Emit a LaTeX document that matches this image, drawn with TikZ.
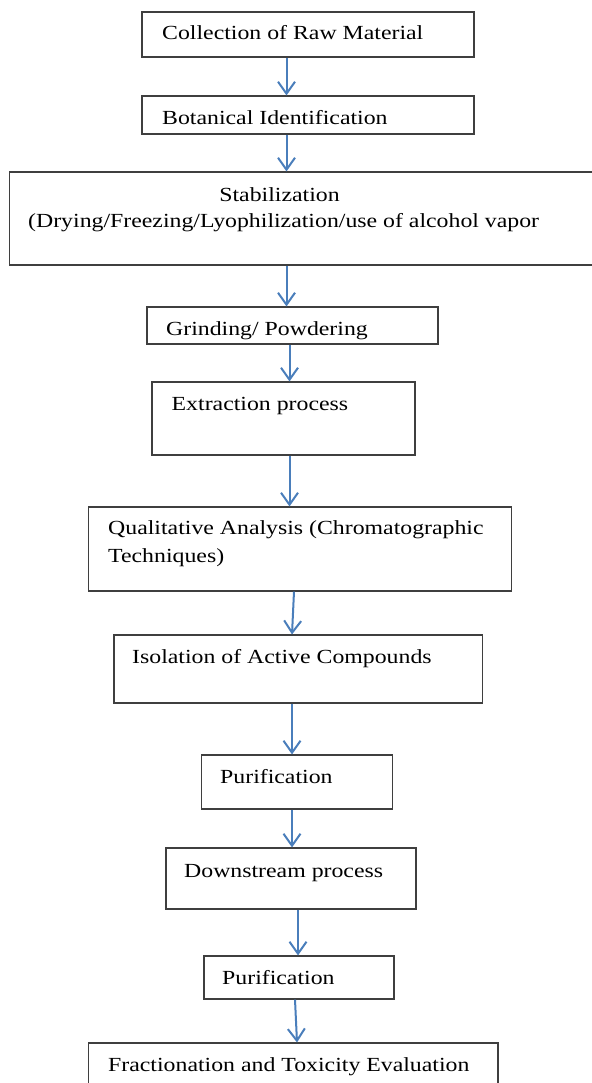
\documentclass[tikz,border=0pt]{standalone}
\usepackage{fontspec}
\setmainfont{Liberation Serif}
\usepackage{graphicx}
\usepackage{xcolor}
\usepackage{tikz}
\usetikzlibrary{positioning,arrows.meta}

\definecolor{flowblue}{HTML}{4A7EBB}
\definecolor{boxgray}{HTML}{3F3F3F}
\newcommand{\wtxt}[1]{\scalebox{1.19}[1]{#1}}

\begin{document}
\begin{tikzpicture}[x=1pt, y=-1pt,
    stage/.style={draw=boxgray, line width=1.1pt, rectangle, inner sep=0pt},
    txt/.style={font=\fontsize{20}{24}\selectfont, text=black, anchor=base west, inner sep=0pt},
    flow/.style={draw=flowblue, line width=2pt, -{Straight Barb[length=12pt,width=17pt]}}]
  \useasboundingbox (0,0) rectangle (591,1083);
  % Boxes
  \node[stage, minimum width=332pt, minimum height=45pt] (n1) at (308,34.5) {};
  \node[stage, minimum width=332pt, minimum height=38pt] (n2) at (308,115) {};
  \node[stage, minimum width=600pt, minimum height=93pt] (n3) at (309.5,218.5) {};
  \node[stage, minimum width=291pt, minimum height=37pt] (n4) at (292.5,325.5) {};
  \node[stage, minimum width=263pt, minimum height=73pt] (n5) at (283.5,418.5) {};
  \node[stage, minimum width=423pt, minimum height=84pt] (n6) at (300,549) {};
  \node[stage, minimum width=368.5pt, minimum height=68pt] (n7) at (298.25,669) {};
  \node[stage, minimum width=191pt, minimum height=54pt] (n8) at (297.25,782) {};
  \node[stage, minimum width=250pt, minimum height=61pt] (n9) at (291,878.5) {};
  \node[stage, minimum width=190pt, minimum height=43pt] (n10) at (299,977.5) {};
  \node[stage, minimum width=409.4pt, minimum height=52pt] (n11) at (293.3,1069) {};
  % Texts
  \node[txt] (t1) at (162,40) {\wtxt{Collection of Raw Material}};
  \node[txt] (t2) at (162,125) {\wtxt{Botanical Identification}};
  \node[txt, anchor=base] (t3a) at (279.5,202) {\wtxt{Stabilization}};
  \node[txt] (t3b) at (28,228) {\wtxt{(Drying/Freezing/Lyophilization/use of alcohol vapor}};
  \node[txt] (t4) at (166,335) {\wtxt{Grinding/ Powdering}};
  \node[txt] (t5) at (171.5,410) {\wtxt{Extraction process}};
  \node[txt] (t6a) at (108,534) {\wtxt{Qualitative Analysis (Chromatographic}};
  \node[txt] (t6b) at (108,562) {\wtxt{Techniques)}};
  \node[txt] (t7) at (132,663) {\wtxt{Isolation of Active Compounds}};
  \node[txt] (t8) at (220,783) {\wtxt{Purification}};
  \node[txt] (t9) at (184,877) {\wtxt{Downstream process}};
  \node[txt] (t10) at (222,984) {\wtxt{Purification}};
  \node[txt] (t11) at (108,1071) {\wtxt{Fractionation and Toxicity Evaluation}};
  % Arrows
  \draw[flow] ([xshift=-21.5pt]n1.south) -- ([xshift=-21.5pt]n2.north);
  \draw[flow] ([xshift=-21.5pt]n2.south) -- ([xshift=-23pt]n3.north);
  \draw[flow] ([xshift=-23pt]n3.south) -- ([xshift=-6pt]n4.north);
  \draw[flow] ([xshift=-3pt]n4.south) -- ([xshift=6pt]n5.north);
  \draw[flow] ([xshift=6pt]n5.south) -- ([xshift=-10.5pt]n6.north);
  \draw[flow] ([xshift=-6pt]n6.south) -- ([xshift=-6.25pt]n7.north);
  \draw[flow] ([xshift=-6.25pt]n7.south) -- ([xshift=-5.25pt]n8.north);
  \draw[flow] ([xshift=-5.25pt]n8.south) -- ([xshift=1pt]n9.north);
  \draw[flow] ([xshift=7pt]n9.south) -- ([xshift=-1pt]n10.north);
  \draw[flow] ([xshift=-4pt]n10.south) -- ([xshift=3.7pt]n11.north);
\end{tikzpicture}
\end{document}
